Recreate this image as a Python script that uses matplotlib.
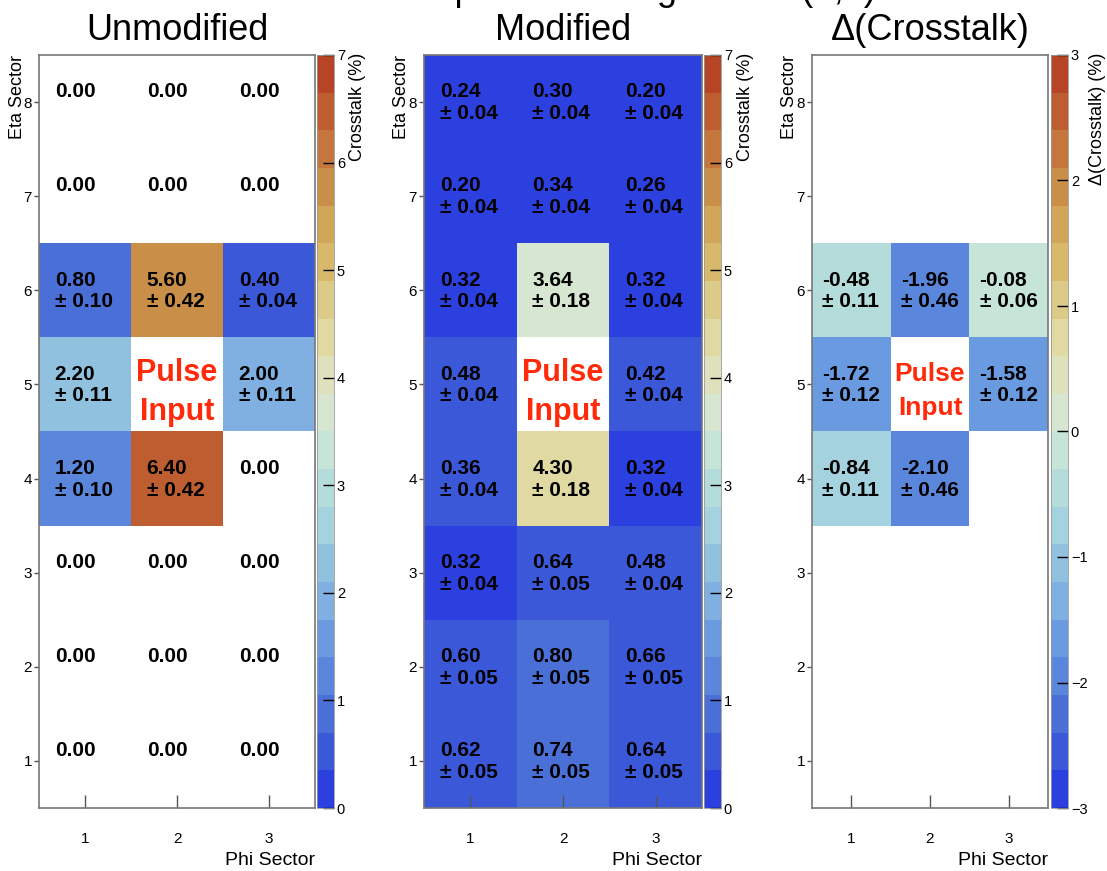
import matplotlib
matplotlib.use('Agg')

import numpy as np
import matplotlib.pyplot as plt
from matplotlib.colors import ListedColormap, BoundaryNorm

plt.rcParams['font.family'] = ['Liberation Sans', 'DejaVu Sans']

nan = np.nan

phi = [1, 2, 3]
eta = [1, 2, 3, 4, 5, 6, 7, 8]

# rows are eta 1..8, columns phi 1..3, nan = pulse input cell
unmod = [[0.00, 0.00, 0.00],
         [0.00, 0.00, 0.00],
         [0.00, 0.00, 0.00],
         [1.20, 6.40, 0.00],
         [2.20, nan, 2.00],
         [0.80, 5.60, 0.40],
         [0.00, 0.00, 0.00],
         [0.00, 0.00, 0.00]]
unmod_err = [[nan, nan, nan],
             [nan, nan, nan],
             [nan, nan, nan],
             [0.10, 0.42, nan],
             [0.11, nan, 0.11],
             [0.10, 0.42, 0.04],
             [nan, nan, nan],
             [nan, nan, nan]]

mod = [[0.62, 0.74, 0.64],
       [0.60, 0.80, 0.66],
       [0.32, 0.64, 0.48],
       [0.36, 4.30, 0.32],
       [0.48, nan, 0.42],
       [0.32, 3.64, 0.32],
       [0.20, 0.34, 0.26],
       [0.24, 0.30, 0.20]]
mod_err = [[0.05, 0.05, 0.05],
           [0.05, 0.05, 0.05],
           [0.04, 0.05, 0.04],
           [0.04, 0.18, 0.04],
           [0.04, nan, 0.04],
           [0.04, 0.18, 0.04],
           [0.04, 0.04, 0.04],
           [0.04, 0.04, 0.04]]

delta = [[nan, nan, nan],
         [nan, nan, nan],
         [nan, nan, nan],
         [-0.84, -2.10, nan],
         [-1.72, nan, -1.58],
         [-0.48, -1.96, -0.08],
         [nan, nan, nan],
         [nan, nan, nan]]
delta_err = [[nan, nan, nan],
             [nan, nan, nan],
             [nan, nan, nan],
             [0.11, 0.46, nan],
             [0.12, nan, 0.12],
             [0.11, 0.46, 0.06],
             [nan, nan, nan],
             [nan, nan, nan]]

pulse_cell = (2, 5)

palette = ['#2c40e0', '#3a58d8', '#4a70d8', '#5a86dc', '#6a9ae0',
           '#80b0e2', '#90c2e0', '#a4d2de', '#b4dcda', '#c6e4d8',
           '#d6e6d0', '#dee2bc', '#e0d9a2', '#dccb88', '#d8b96c',
           '#d2a658', '#c98f48', '#c4763c', '#bd5d30', '#b84426']
cmap = ListedColormap(palette)


def fx(px):
    return px / 1107.0


def fy(py):
    return 1 - py / 871.0


fig = plt.figure(figsize=(11.07, 8.71), dpi=100)

panels = [
    dict(vals=unmod, errs=unmod_err, title='Unmodified', x0=39, w=276,
         cb=317, lo=0, hi=7, cblabel='Crosstalk (%)', cbx=357,
         hide_zero=True, xoff=0.33, pfs=22, pdy=-0.38),
    dict(vals=mod, errs=mod_err, title='Modified', x0=424, w=278,
         cb=704, lo=0, hi=7, cblabel='Crosstalk (%)', cbx=745,
         hide_zero=False, xoff=0.33, pfs=22, pdy=-0.38),
    dict(vals=delta, errs=delta_err, title='Δ(Crosstalk)', x0=812, w=236,
         cb=1051, lo=-3, hi=3, cblabel='Δ(Crosstalk) (%)', cbx=1097,
         hide_zero=False, xoff=0.37, pfs=19, pdy=-0.32),
]

top, bot = 55, 808

for p in panels:
    ax = fig.add_axes([fx(p['x0']), fy(bot), fx(p['w']), (bot - top) / 871.0])
    z = np.array(p['vals'], dtype=float)
    zc = np.ma.masked_invalid(z)
    if p['hide_zero']:
        zc = np.ma.masked_where(z == 0, zc)
    levels = np.linspace(p['lo'], p['hi'], 21)
    norm = BoundaryNorm(levels, cmap.N)
    xe = np.arange(0.5, len(phi) + 1, 1)
    ye = np.arange(0.5, len(eta) + 1, 1)
    mesh = ax.pcolormesh(xe, ye, zc, cmap=cmap, norm=norm)

    for i, e in enumerate(eta):
        for j, ph in enumerate(phi):
            if (ph, e) == pulse_cell:
                ax.text(ph, e + 0.04, 'Pulse', ha='center', va='baseline',
                        color='#ff2a0a', fontsize=p['pfs'], fontweight='bold')
                ax.text(ph, e + p['pdy'], 'Input', ha='center', va='baseline',
                        color='#ff2a0a', fontsize=p['pfs'], fontweight='bold')
                continue
            v = p['vals'][i][j]
            if np.isnan(v):
                continue
            ax.text(ph - p['xoff'], e + 0.05, f'{v:.2f}', ha='left',
                    va='baseline', fontsize=15, fontweight='bold')
            er = p['errs'][i][j]
            if not np.isnan(er):
                ax.text(ph - p['xoff'], e - 0.18, f'± {er:.2f}', ha='left',
                        va='baseline', fontsize=15, fontweight='bold')

    ax.set_xlim(0.5, 3.5)
    ax.set_ylim(0.5, 8.5)
    ax.set_xticks(phi)
    ax.set_yticks(eta)
    ax.tick_params(axis='x', direction='in', length=9.5, width=1,
                   color='#555555', pad=17, labelsize=11)
    ax.tick_params(axis='y', direction='out', length=3.5, width=1,
                   color='#555555', pad=1.5, labelsize=11)
    for s in ax.spines.values():
        s.set_color('#777777')
        s.set_linewidth(1.2)
    ax.set_title(p['title'], fontsize=26, pad=11)

    cax = fig.add_axes([fx(p['cb']), fy(bot), fx(17), (bot - top) / 871.0])
    cb = fig.colorbar(mesh, cax=cax, ticks=np.arange(p['lo'], p['hi'] + 1, 1))
    cb.minorticks_off()
    cb.ax.tick_params(direction='in', length=8, width=1, color='black',
                      labelsize=10.5, pad=2)
    cb.outline.set_edgecolor('#999999')
    cb.outline.set_linewidth(0.6)

    fig.text(fx(p['cbx']), fy(top - 2), p['cblabel'], rotation=90,
             ha='center', va='top', fontsize=13)
    fig.text(fx(p['x0'] - 22), fy(top), 'Eta Sector', rotation=90,
             ha='center', va='top', fontsize=13)
    fig.text(fx(p['x0'] + p['w']), fy(860), 'Phi Sector', ha='right',
             va='center', fontsize=14)

# overall title, mostly above the visible canvas as in the source image
fig.text(fx(876), 1.0, 'Crosstalk Map with Pulsing Sector (2,5)', ha='right',
         va='baseline', fontsize=26)

fig.savefig('out.png', dpi=100)
